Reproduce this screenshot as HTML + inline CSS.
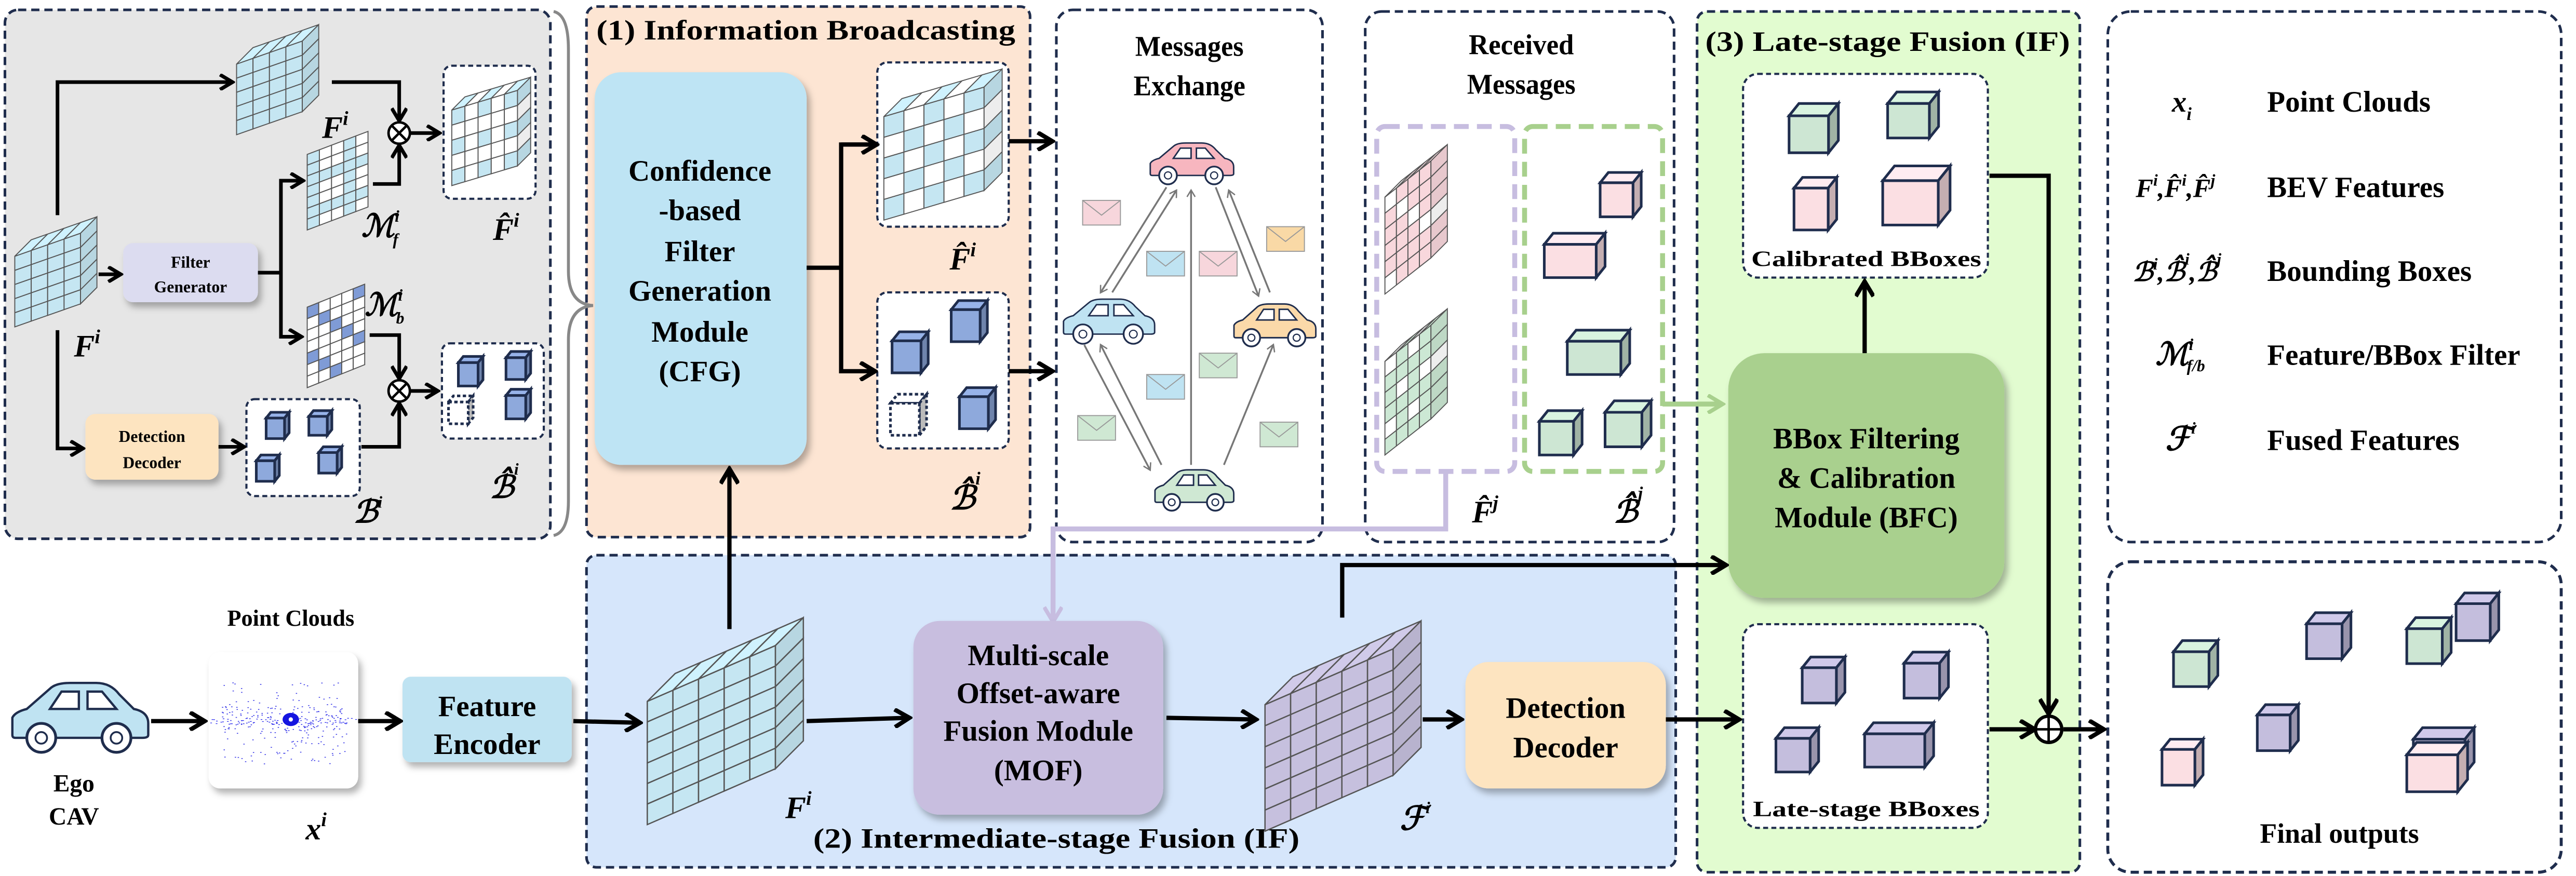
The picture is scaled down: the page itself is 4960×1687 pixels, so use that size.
<!DOCTYPE html>
<html><head><meta charset="utf-8">
<style>
html,body{margin:0;padding:0;background:#fff;}
svg{display:block;}
text{font-family:"Liberation Serif",serif;font-weight:bold;fill:#000;}
.m{font-style:italic;}
</style></head>
<body>
<svg id="s" xmlns="http://www.w3.org/2000/svg" width="4960" height="1687" viewBox="0 0 1568 533.3" preserveAspectRatio="none">
<defs>
<marker id="ah" viewBox="0 0 10 10" refX="8" refY="5" markerWidth="4.6" markerHeight="4.6" orient="auto" markerUnits="strokeWidth">
<path d="M1,0.5 L8.5,5 L1,9.5" fill="none" stroke="#000" stroke-width="2.2"/>
</marker>
<marker id="ahg" viewBox="0 0 10 10" refX="8" refY="5" markerWidth="5" markerHeight="5" orient="auto" markerUnits="strokeWidth">
<path d="M1,0.5 L8.5,5 L1,9.5" fill="none" stroke="#777" stroke-width="1.5"/>
</marker>
<marker id="ahl" viewBox="0 0 10 10" refX="8" refY="5" markerWidth="4" markerHeight="4" orient="auto" markerUnits="strokeWidth">
<path d="M1,0.5 L8.5,5 L1,9.5" fill="none" stroke="#c7bde0" stroke-width="2"/>
</marker>
<marker id="ahgr" viewBox="0 0 10 10" refX="8" refY="5" markerWidth="4" markerHeight="4" orient="auto" markerUnits="strokeWidth">
<path d="M1,0.5 L8.5,5 L1,9.5" fill="none" stroke="#a8d08d" stroke-width="2"/>
</marker>
<filter id="sh" x="-10%" y="-10%" width="130%" height="130%"><feDropShadow dx="2" dy="3" stdDeviation="2" flood-color="#000" flood-opacity="0.3"/></filter>
</defs>

<!-- panels -->
<rect x="3" y="6" width="332" height="322" rx="8" fill="#e6e6e6" stroke="#1f2d4d" stroke-width="1.6" stroke-dasharray="5,3"/>
<rect x="357" y="4" width="270" height="323" rx="6" fill="#fde5d3" stroke="#1f2d4d" stroke-width="1.6" stroke-dasharray="5,3"/>
<rect x="357" y="338" width="663" height="190" rx="6" fill="#d6e6fb" stroke="#1f2d4d" stroke-width="1.6" stroke-dasharray="5,3"/>
<rect x="643" y="6" width="162" height="324" rx="10" fill="#fff" stroke="#1f2d4d" stroke-width="1.6" stroke-dasharray="5,3"/>
<rect x="831" y="7" width="188" height="323" rx="10" fill="#fff" stroke="#1f2d4d" stroke-width="1.6" stroke-dasharray="5,3"/>
<rect x="1033" y="7" width="233" height="524" rx="6" fill="#e2fcd0" stroke="#1f2d4d" stroke-width="1.6" stroke-dasharray="5,3"/>
<rect x="1283" y="7" width="276" height="323" rx="14" fill="#fff" stroke="#1f2d4d" stroke-width="1.6" stroke-dasharray="5,3"/>
<rect x="1283" y="342" width="276" height="189" rx="14" fill="#fff" stroke="#1f2d4d" stroke-width="1.8" stroke-dasharray="5,3"/>

<!-- brace -->
<path d="M337,7 Q346,9 346,30 L346,165 Q346,185 361,186 Q346,187 346,207 L346,305 Q346,324 337,326" fill="none" stroke="#888" stroke-width="1.8"/>

<g id="gray"></g>
<rect x="75" y="148" width="82" height="36" rx="6" fill="#dcdcf0" filter="url(#sh)"/>
<text x="116" y="163" font-size="10" text-anchor="middle">Filter</text>
<text x="116" y="178" font-size="10" text-anchor="middle">Generator</text>
<rect x="52" y="252" width="81" height="40" rx="6" fill="#fde4c0" filter="url(#sh)"/>
<text x="92.5" y="269" font-size="10" text-anchor="middle">Detection</text>
<text x="92.5" y="285" font-size="10" text-anchor="middle">Decoder</text>
<rect x="270" y="40" width="56" height="81" rx="5" fill="#fff" stroke="#1f2d4d" stroke-width="1.3" stroke-dasharray="3,2"/>
<rect x="150" y="243" width="69" height="59" rx="5" fill="#fff" stroke="#1f2d4d" stroke-width="1.3" stroke-dasharray="3,2"/>
<rect x="269" y="209" width="62" height="58" rx="5" fill="#fff" stroke="#1f2d4d" stroke-width="1.3" stroke-dasharray="3,2"/>

<g fill="none" stroke="#000" stroke-width="2.2">
<polyline points="35,131 35,50 141,50" marker-end="url(#ah)"/>
<line x1="60" y1="167" x2="73" y2="167" marker-end="url(#ah)"/>
<polyline points="157,166 171,166"/>
<polyline points="183,110 171,110 171,205 183,205" marker-end="url(#ah)"/>
<line x1="171" y1="110" x2="184" y2="110" marker-end="url(#ah)"/>
<polyline points="202,50 243,50 243,73" marker-end="url(#ah)"/>
<polyline points="227,112 243,112 243,89" marker-end="url(#ah)"/>
<line x1="250" y1="81" x2="267" y2="81" marker-end="url(#ah)"/>
<polyline points="35,201 35,273 50,273" marker-end="url(#ah)"/>
<line x1="133" y1="272" x2="148" y2="272" marker-end="url(#ah)"/>
<polyline points="225,204 243,204 243,230" marker-end="url(#ah)"/>
<polyline points="220,272 243,272 243,246" marker-end="url(#ah)"/>
<line x1="250" y1="238" x2="266" y2="238" marker-end="url(#ah)"/>
</g>
<g fill="#fff" stroke="#000" stroke-width="1.5">
<circle cx="243" cy="81" r="6.5"/><circle cx="243" cy="238" r="6.5"/>
<path d="M238.4,76.4 L247.6,85.6 M247.6,76.4 L238.4,85.6 M238.4,233.4 L247.6,242.6 M247.6,233.4 L238.4,242.6"/>
</g>
<text class="m" x="196" y="84" font-size="19">F<tspan font-size="12" dy="-8">i</tspan></text>
<text class="m" x="45" y="217" font-size="19">F<tspan font-size="12" dy="-8">i</tspan></text>
<text class="m" x="300" y="146" font-size="19">F&#770;<tspan font-size="12" dy="-8">i</tspan></text>
<text x="220" y="144" font-size="19" font-weight="normal" font-style="italic">ℳ<tspan font-size="10" dy="-9">i</tspan><tspan font-size="10" dx="-4" dy="14">f</tspan></text>
<text x="222" y="192" font-size="19" font-weight="normal" font-style="italic">ℳ<tspan font-size="10" dy="-9">i</tspan><tspan font-size="10" dx="-4" dy="14">b</tspan></text>
<text x="215" y="318" font-size="19" font-weight="normal" font-style="italic">ℬ<tspan font-size="10" dy="-9">i</tspan></text>
<text x="298" y="303" font-size="19" font-weight="normal" font-style="italic">ℬ&#770;<tspan font-size="10" dy="-14">i</tspan></text>

<text x="363" y="24" font-size="17" textLength="255" lengthAdjust="spacingAndGlyphs">(1) Information Broadcasting</text>
<rect x="362" y="44" width="129" height="239" rx="16" fill="#bee4f4" filter="url(#sh)"/>
<g font-size="18" text-anchor="middle">
<text x="426" y="110">Confidence</text><text x="426" y="134">-based</text><text x="426" y="159">Filter</text>
<text x="426" y="183">Generation</text><text x="426" y="208">Module</text><text x="426" y="232">(CFG)</text>
</g>
<rect x="534" y="38" width="80" height="100" rx="6" fill="#fff" stroke="#1f2d4d" stroke-width="1.3" stroke-dasharray="3,2"/>
<rect x="534" y="178" width="80" height="95" rx="6" fill="#fff" stroke="#1f2d4d" stroke-width="1.3" stroke-dasharray="3,2"/>
<g fill="none" stroke="#000" stroke-width="2.6">
<polyline points="491,163 512,163"/>
<polyline points="532,88 512,88 512,226 532,226" marker-end="url(#ah)"/>
<line x1="512" y1="88" x2="533" y2="88" marker-end="url(#ah)"/>
<line x1="614" y1="86" x2="640" y2="86" marker-end="url(#ah)"/>
<line x1="614" y1="226" x2="640" y2="226" marker-end="url(#ah)"/>
<line x1="444" y1="383" x2="444" y2="286" marker-end="url(#ah)"/>
</g>
<text class="m" x="578" y="164" font-size="19">F&#770;<tspan font-size="12" dy="-8">i</tspan></text>
<text x="578" y="310" font-size="20" font-weight="normal" font-style="italic">ℬ&#770;<tspan font-size="11" dy="-15">i</tspan></text>

<text x="724" y="34" font-size="17.5" text-anchor="middle" textLength="66" lengthAdjust="spacingAndGlyphs">Messages</text>
<text x="724" y="58" font-size="17.5" text-anchor="middle" textLength="68" lengthAdjust="spacingAndGlyphs">Exchange</text>
<g id="msg"></g>

<text x="926" y="33" font-size="17.5" text-anchor="middle" textLength="64" lengthAdjust="spacingAndGlyphs">Received</text>
<text x="926" y="57" font-size="17.5" text-anchor="middle" textLength="66" lengthAdjust="spacingAndGlyphs">Messages</text>
<rect x="838" y="77" width="84" height="210" rx="5" fill="none" stroke="#c7bde0" stroke-width="3" stroke-dasharray="9,5"/>
<rect x="928" y="77" width="84" height="210" rx="5" fill="none" stroke="#a8d08d" stroke-width="3" stroke-dasharray="9,5"/>
<text class="m" x="896" y="318" font-size="19">F&#770;<tspan font-size="12" dy="-8">j</tspan></text>
<text x="982" y="318" font-size="19" font-weight="normal" font-style="italic">ℬ&#770;<tspan font-size="11" dy="-14">j</tspan></text>
<polyline points="880,287 880,322 641,322 641,378" fill="none" stroke="#c7bde0" stroke-width="3" marker-end="url(#ahl)"/>
<line x1="1012" y1="246" x2="1048" y2="246" stroke="#a8d08d" stroke-width="3" marker-end="url(#ahgr)"/>

<text x="1038" y="31" font-size="17" textLength="222" lengthAdjust="spacingAndGlyphs">(3) Late-stage Fusion (IF)</text>
<rect x="1061" y="45" width="149" height="124" rx="9" fill="#fff" stroke="#1f2d4d" stroke-width="1.3" stroke-dasharray="3,2"/>
<text x="1136" y="162" font-size="13.5" text-anchor="middle" textLength="140" lengthAdjust="spacingAndGlyphs">Calibrated BBoxes</text>
<rect x="1061" y="380" width="149" height="124" rx="9" fill="#fff" stroke="#1f2d4d" stroke-width="1.3" stroke-dasharray="3,2"/>
<text x="1136" y="497" font-size="13.5" text-anchor="middle" textLength="138" lengthAdjust="spacingAndGlyphs">Late-stage BBoxes</text>
<rect x="1052" y="215" width="168" height="149" rx="22" fill="#a9d08e" filter="url(#sh)"/>
<g font-size="18" text-anchor="middle">
<text x="1136" y="273">BBox Filtering</text><text x="1136" y="297">&amp; Calibration</text><text x="1136" y="321">Module (BFC)</text>
</g>
<g fill="none" stroke="#000" stroke-width="2.6">
<line x1="1135" y1="215" x2="1135" y2="172" marker-end="url(#ah)"/>
<polyline points="1211,107 1247,107 1247,434" marker-end="url(#ah)"/>
<line x1="1211" y1="444" x2="1238" y2="444" marker-end="url(#ah)"/>
<line x1="1256" y1="444" x2="1280" y2="444" marker-end="url(#ah)"/>
</g>
<circle cx="1247" cy="444" r="8" fill="#fff" stroke="#000" stroke-width="2"/>
<path d="M1247,436 V452 M1239,444 H1255" stroke="#000" stroke-width="1.5"/>

<g font-size="18">
<text x="1322" y="68" class="m">x<tspan font-size="11" dy="5">i</tspan></text>
<text x="1380" y="68">Point Clouds</text>
<text x="1300" y="120" class="m" font-size="16">F<tspan font-size="10" dy="-7">i</tspan><tspan dy="7">,F&#770;</tspan><tspan font-size="10" dy="-7">i</tspan><tspan dy="7">,F&#770;</tspan><tspan font-size="10" dy="-7">j</tspan></text>
<text x="1380" y="120">BEV Features</text>
<text x="1298" y="171" font-weight="normal" font-style="italic" font-size="16">ℬ<tspan font-size="10" dy="-7">i</tspan><tspan dy="7">,ℬ&#770;</tspan><tspan font-size="10" dy="-10">i</tspan><tspan dy="10">,ℬ&#770;</tspan><tspan font-size="10" dy="-10">j</tspan></text>
<text x="1380" y="171">Bounding Boxes</text>
<text x="1312" y="222" font-weight="normal" font-style="italic" font-size="19">ℳ<tspan font-size="10" dy="-9">i</tspan><tspan font-size="10" dx="-4" dy="13">f/b</tspan></text>
<text x="1380" y="222">Feature/BBox Filter</text>
<text x="1318" y="274" font-weight="normal" font-style="italic" font-size="20">ℱ<tspan font-size="10" dy="-10">i</tspan></text>
<text x="1380" y="274">Fused Features</text>
</g>
<text x="1424" y="513" font-size="17" text-anchor="middle">Final outputs</text>

<text x="643" y="516" font-size="17" text-anchor="middle" textLength="296" lengthAdjust="spacingAndGlyphs">(2) Intermediate-stage Fusion (IF)</text>
<rect x="556" y="378" width="152" height="118" rx="16" fill="#c8bedf" filter="url(#sh)"/>
<g font-size="18" text-anchor="middle">
<text x="632" y="405">Multi-scale</text><text x="632" y="428">Offset-aware</text><text x="632" y="451">Fusion Module</text><text x="632" y="475">(MOF)</text>
</g>
<rect x="892" y="403" width="122" height="77" rx="14" fill="#fde4c0" filter="url(#sh)"/>
<text x="953" y="437" font-size="18" text-anchor="middle">Detection</text>
<text x="953" y="461" font-size="18" text-anchor="middle">Decoder</text>
<g fill="none" stroke="#000" stroke-width="2.6">
<line x1="491" y1="439" x2="553" y2="437" marker-end="url(#ah)"/>
<line x1="710" y1="437" x2="764" y2="438" marker-end="url(#ah)"/>
<line x1="866" y1="438" x2="889" y2="438" marker-end="url(#ah)"/>
<line x1="1014" y1="438" x2="1058" y2="438" marker-end="url(#ah)"/>
<polyline points="817,376 817,344 1050,344" marker-end="url(#ah)"/>
</g>
<text class="m" x="478" y="498" font-size="19">F<tspan font-size="12" dy="-8">i</tspan></text>
<text x="852" y="505" font-size="20" font-weight="normal" font-style="italic">ℱ<tspan font-size="10" dy="-10">i</tspan></text>

<text x="177" y="381" font-size="14" text-anchor="middle">Point Clouds</text>
<rect x="127" y="397" width="91" height="83" rx="7" fill="#fff" filter="url(#sh)"/>
<g id="pc"></g>
<text class="m" x="186" y="511" font-size="19">x<tspan font-size="12" dy="-8">i</tspan></text>
<rect x="245" y="412" width="103" height="52" rx="5" fill="#bfe3f2" filter="url(#sh)"/>
<text x="296.5" y="436" font-size="18" text-anchor="middle">Feature</text>
<text x="296.5" y="459" font-size="18" text-anchor="middle">Encoder</text>
<text x="45" y="482" font-size="15" text-anchor="middle">Ego</text>
<text x="45" y="502" font-size="15" text-anchor="middle">CAV</text>
<g fill="none" stroke="#000" stroke-width="2.6">
<line x1="92" y1="439" x2="124" y2="439" marker-end="url(#ah)"/>
<line x1="218" y1="439" x2="243" y2="439" marker-end="url(#ah)"/>
<line x1="349" y1="439" x2="389" y2="440" marker-end="url(#ah)"/>
</g>
<g id="cars"></g>
<g id="cubes"></g>
<g id="grids"></g>
</svg>
<script>
var NS="http://www.w3.org/2000/svg";
function el(p,tag,a){var e=document.createElementNS(NS,tag);for(var k in a)e.setAttribute(k,a[k]);p.appendChild(e);return e;}
var G=document.getElementById('grids'),C=document.getElementById('cubes');
function lerp(a,b,t){return [a[0]+(b[0]-a[0])*t,a[1]+(b[1]-a[1])*t];}
function shade(c,f){var n=parseInt(c.slice(1),16),r=n>>16,g=(n>>8)&255,b=n&255;r=Math.min(255,Math.round(r*f));g=Math.min(255,Math.round(g*f));b=Math.min(255,Math.round(b*f));return "rgb("+r+","+g+","+b+")";}
function poly(p,pts,fill,st,sw,da){var a={points:pts.map(function(q){return q[0].toFixed(2)+","+q[1].toFixed(2)}).join(" "),fill:fill,stroke:st,"stroke-width":sw};if(da)a["stroke-dasharray"]=da;return el(p,"polygon",a);}
function grid(x,y,w,h,cols,rows,rise,d,fc,sw){
 var x1=x+w-d, TL=[x,y+d+rise], TR=[x1,y+d], BL=[x,y+h], BR=[x1,y+h-rise];
 function P(i,j){var t=lerp(TL,TR,i/cols),b=lerp(BL,BR,i/cols);return lerp(t,b,j/rows);}
 var st="#555";sw=sw||0.6;
 for(var i=0;i<cols;i++)for(var j=0;j<rows;j++){poly(G,[P(i,j),P(i+1,j),P(i+1,j+1),P(i,j+1)],fc(i,j),st,sw);}
 if(d>0){
  for(var i=0;i<cols;i++){var a=P(i,0),b=P(i+1,0);poly(G,[a,b,[b[0]+d,b[1]-d],[a[0]+d,a[1]-d]],shade(fc(i,0),1.05),st,sw);}
  for(var j=0;j<rows;j++){var a=P(cols,j),b=P(cols,j+1);poly(G,[a,[a[0]+d,a[1]-d],[b[0]+d,b[1]-d],b],shade(fc(cols-1,j),0.93),st,sw);}
 }
}
var BL="#c5e6f2",W="#ffffff",PK="#f8d7dc",GR="#cce8d4",PU="#c6c0de",DB="#7f9bd6";
function pat(c1,c2,m){return function(i,j){return ((i*7+j*3+i*j)%m==0)?c2:c1;};}
function sol(c){return function(){return c;};}
grid(144,15,50,67,4,5,14,10,sol(BL));
grid(9,132,50,67,4,5,14,10,sol(BL));
grid(187,80,37,60,5,7,14,0,pat(W,BL,3));
grid(187,173,35,63,5,7,14,0,function(i,j){return ((i*5+j*3)%4==0)?DB:W;});
grid(275,47,48,66,5,5,12,8,pat(W,BL,2));
grid(538,42,72,92,5,5,18,11,function(i,j){return ((i+j)%2==0)?BL:W;});
grid(843,88,38,91,4,6,22,10,function(i,j){return ((i*3+j*2)%5==0)?W:PK;});
grid(843,188,38,89,4,6,22,10,function(i,j){return ((i*2+j*3)%4==0)?W:GR;});
grid(394,376,95,126,5,6,34,17,sol(BL),0.8);
grid(770,378,95,128,5,6,34,17,sol(PU),0.8);
function cube(x,y,w,h,c,dash,sw){
 var d=Math.min(w,h)*0.25;sw=sw||1.6;var st="#1f2d4d";var da=dash?"2,1.5":null;var f=dash?"#fff":c;
 poly(C,[[x,y+d],[x+d*0.8,y],[x+w,y],[x+w-d*0.8,y+d]],dash?"#fff":shade(c,1.06),st,sw,da);
 poly(C,[[x+w-d*0.8,y+d],[x+w,y],[x+w,y+h-d],[x+w-d*0.8,y+h]],dash?"#bbb":shade(c,0.78),st,sw,da);
 poly(C,[[x,y+d],[x+w-d*0.8,y+d],[x+w-d*0.8,y+h],[x,y+h]],f,st,sw,da);
}
var CB="#8ea9dc",CP="#c4bedd",CPK="#fbdfe3",CG="#cde6d3";
cube(162,251,14,16,CB);cube(188,250,14,15,CB);cube(156,277,14,16,CB);cube(194,272,14,16,CB);
cube(279,217,15,18,CB);cube(308,214,15,17,CB);cube(273,241,15,17,CB,true);cube(308,237,15,18,CB);
cube(543,202,22,25,CB);cube(579,183,22,25,CB);cube(542,240,22,25,CB,true);cube(584,236,22,25,CB);
cube(974,105,25,27,CPK);cube(940,142,37,27,CPK);cube(954,201,38,27,CG);cube(937,250,26,27,CG);cube(977,244,28,28,CG);
cube(1089,63,30,30,CG);cube(1149,56,31,28,CG);cube(1092,108,26,32,CPK);cube(1146,101,41,36,CPK);
cube(1097,400,26,28,CP);cube(1159,397,27,28,CP);cube(1081,443,26,27,CP);cube(1135,440,42,27,CP);
cube(1323,390,27,28,CG);cube(1404,373,27,28,CP);cube(1495,361,26,29,CP);cube(1465,376,27,28,CG);
cube(1316,450,25,28,CPK);cube(1374,429,25,28,CP);cube(1469,443,37,28,CP);cube(1465,452,37,30,CPK);
var PC=document.getElementById('pc');var s=7;function rnd(){s=(s*16807)%2147483647;return s/2147483647;}
for(var k=0;k<260;k++){var x=135+rnd()*76,y=415+rnd()*50;if(rnd()<0.5)y=430+rnd()*16;el(PC,"rect",{x:x,y:y,width:0.8,height:0.5,fill:"#3a3ae8"});}
for(var k=0;k<60;k++){var x=128+rnd()*90;el(PC,"rect",{x:x,y:437+rnd()*4,width:1,height:0.4,fill:"#2a2af0"});}
el(PC,"ellipse",{cx:177,cy:438,rx:5,ry:4,fill:"#1414e0"});
el(PC,"circle",{cx:177,cy:438,r:1.3,fill:"#fff"});
var CA=document.getElementById('cars');
function car(x,y,w,h,c,sw){var g=el(CA,"g",{transform:"translate("+x+","+y+") scale("+(w/100)+","+(h/50)+")"});
 el(g,"path",{d:"M4,38 L4,26 Q6,22 14,20 L30,6 Q34,2 44,2 L62,2 Q72,2 78,10 L88,20 Q98,22 98,30 L98,38 Q98,40 94,40 L6,40 Q4,40 4,38 Z",fill:c,stroke:"#1f2d4d","stroke-width":sw*(100/w)});
 el(g,"path",{d:"M30,20 L38,8 L50,8 L50,20 Z M56,8 L66,8 L76,20 L56,20 Z",fill:"#fff",stroke:"#1f2d4d","stroke-width":sw*(100/w)});
 [24,76].forEach(function(cx){el(g,"ellipse",{cx:cx,cy:40,rx:10,ry:10*w/h/2,fill:"#fff",stroke:"#1f2d4d","stroke-width":sw*(100/w)*1.2});el(g,"ellipse",{cx:cx,cy:40,rx:4,ry:4*w/h/2,fill:"#fff",stroke:"#1f2d4d","stroke-width":sw*(100/w)*0.8});});
}
car(4,414,88,44,"#bfe3f2",1.4);
car(698,86,54,26,"#f7b6bf",0.9);car(645,181,59,28,"#bfe3f2",0.9);car(749,184,53,27,"#fbd9a9",0.9);car(701,285,51,26,"#cfe8d3",0.9);
var M=document.getElementById('msg');
function ar(x1,y1,x2,y2){el(M,"line",{x1:x1,y1:y1,x2:x2,y2:y2,stroke:"#777","stroke-width":1.1,"marker-end":"url(#ahg)"});}
ar(710,114,670,178);ar(677,178,716,116);
ar(725,283,725,116);
ar(740,114,766,180);ar(773,178,748,116);
ar(660,210,700,286);ar(707,283,670,210);
ar(745,283,775,210);
function env(x,y,c){el(M,"rect",{x:x,y:y,width:23,height:15,fill:c,stroke:"#999","stroke-width":0.6});el(M,"polyline",{points:(x)+","+y+" "+(x+11.5)+","+(y+9)+" "+(x+23)+","+y,fill:"none",stroke:"#999","stroke-width":0.6});}
env(659,122,"#f7d6dc");env(771,138,"#f9d9a6");env(698,153,"#bfe3f2");env(730,153,"#f7d6dc");
env(730,215,"#cfe8d3");env(698,228,"#bfe3f2");env(656,253,"#cfe8d3");env(767,257,"#cfe8d3");
</script>
</body></html>
